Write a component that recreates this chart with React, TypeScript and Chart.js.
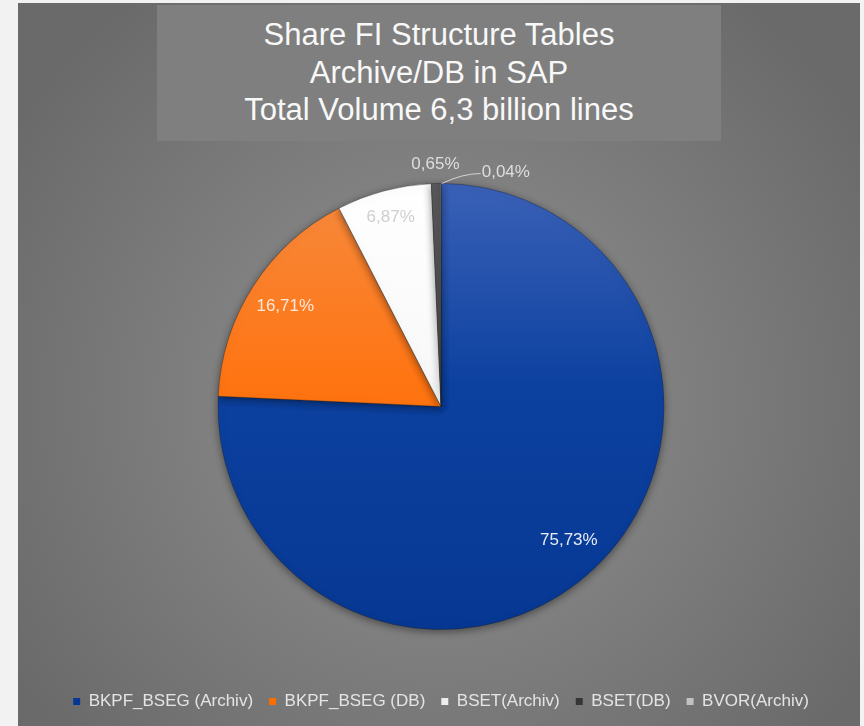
import React, { useEffect, useRef } from 'react';
import { Chart, registerables } from 'chart.js';

Chart.register(...registerables);

const TITLE_LINES = ['Share FI Structure Tables', 'Archive/DB in SAP', 'Total Volume 6,3 billion lines'];
const CATEGORIES = ['BKPF_BSEG (Archiv)', 'BKPF_BSEG (DB)', 'BSET(Archiv)', 'BSET(DB)', 'BVOR(Archiv)'];
const SHARES = [75.73, 16.71, 6.87, 0.65, 0.04];

const FONT = '"Liberation Sans", Arial, Helvetica, sans-serif';

const SLICE_GRADIENTS = [
  ['#3a61b7', '#0d41a0', '#063893'],
  ['#f68a3e', '#ff7412', '#fa6d00'],
  ['#ffffff', '#f8f8f8', '#ececec'],
  ['#5a5a5a', '#464646', '#363636'],
  ['#d6d6d6', '#cccccc', '#c2c2c2'],
];
const LABEL_COLORS = ['#e6ebf5', '#fde9da', '#cfcfcf', '#dedede', '#dedede'];

const fmt = (v: number) => v.toFixed(2).replace('.', ',') + '%';

const labelPlugin = {
  id: 'pieDecor',
  beforeDatasetsDraw(chart: any) {
    const ctx = chart.ctx;
    ctx.save();
    ctx.shadowColor = 'rgba(0,0,0,0.45)';
    ctx.shadowBlur = 9;
    ctx.shadowOffsetY = 2;
  },
  afterDatasetsDraw(chart: any) {
    const ctx = chart.ctx;
    ctx.restore();
    const meta = chart.getDatasetMeta(0);
    ctx.save();
    ctx.font = `17px ${FONT}`;
    ctx.textBaseline = 'middle';
    meta.data.forEach((arc: any, i: number) => {
      const { x, y, startAngle, endAngle, outerRadius } = arc.getProps(
        ['x', 'y', 'startAngle', 'endAngle', 'outerRadius'],
        true
      );
      const mid = (startAngle + endAngle) / 2;
      const v = SHARES[i];
      const text = fmt(v);
      ctx.fillStyle = LABEL_COLORS[i];
      if (v >= 10) {
        const r = outerRadius * 0.83;
        ctx.textAlign = 'center';
        ctx.fillText(text, x + Math.cos(mid) * r, y + Math.sin(mid) * r);
      } else if (v >= 5) {
        const r = outerRadius * 0.88;
        ctx.textAlign = 'center';
        ctx.fillText(text, x + Math.cos(mid) * r, y + Math.sin(mid) * r);
      } else if (v >= 0.5) {
        const r = outerRadius * 1.085;
        ctx.textAlign = 'center';
        ctx.fillText(text, x + Math.cos(mid) * r, y + Math.sin(mid) * r);
      } else {
        const px = x + Math.cos(mid) * outerRadius;
        const py = y + Math.sin(mid) * outerRadius;
        ctx.strokeStyle = '#d4d4d4';
        ctx.lineWidth = 1;
        ctx.beginPath();
        ctx.moveTo(px + 1, py);
        ctx.quadraticCurveTo(px + 22, py - 10, px + 40, py - 10);
        ctx.stroke();
        ctx.textAlign = 'left';
        ctx.fillText(text, px + 41, py - 11);
      }
    });
    ctx.restore();
  },
};

export default function App() {
  const canvasRef = useRef<HTMLCanvasElement | null>(null);

  useEffect(() => {
    const canvas = canvasRef.current;
    if (!canvas) return;
    const RADIUS = 223;
    const chart = new Chart(canvas, {
      type: 'pie',
      data: {
        labels: CATEGORIES,
        datasets: [
          {
            data: SHARES,
            backgroundColor: (c: any) => {
              const i = c.dataIndex ?? 0;
              const stops = SLICE_GRADIENTS[i];
              const area = c.chart.chartArea;
              if (!area) return stops[1];
              const cy = (area.top + area.bottom) / 2;
              const g = c.chart.ctx.createLinearGradient(0, cy - RADIUS, 0, cy + RADIUS);
              g.addColorStop(0, stops[0]);
              g.addColorStop(0.45, stops[1]);
              g.addColorStop(1, stops[2]);
              return g;
            },
            borderColor: 'rgba(30,30,30,0.35)',
            borderWidth: 1,
            hoverOffset: 0,
            radius: RADIUS,
          } as any,
        ],
      },
      options: {
        animation: false,
        responsive: true,
        maintainAspectRatio: false,
        layout: { padding: { top: 133, left: 4, right: 0, bottom: 6 } },
        plugins: {
          title: { display: false },
          tooltip: { enabled: false },
          legend: {
            position: 'bottom',
            labels: {
              color: '#e4e4e4',
              font: { family: FONT, size: 17 },
              boxWidth: 7,
              boxHeight: 7,
              padding: 16,
              generateLabels: (ch: any) => {
                const base = (Chart as any).overrides.pie.plugins.legend.labels.generateLabels(ch);
                return base.map((it: any) => ({ ...it, lineWidth: 0 }));
              },
            },
          },
        },
      },
      plugins: [labelPlugin],
    } as any);
    return () => chart.destroy();
  }, []);

  return (
    <div
      style={{
        position: 'fixed',
        left: 0,
        top: 0,
        width: 864,
        height: 726,
        background: '#f2f2f2',
        overflow: 'hidden',
        fontFamily: FONT,
      }}
    >
      <div
        style={{
          position: 'absolute',
          left: 18,
          top: 3,
          width: 842,
          height: 723,
          background:
            'radial-gradient(ellipse 60% 70% at 50% 55%, #8b8b8b 0%, #828282 40%, #767676 70%, #6a6a6a 100%)',
        }}
      >
        <div style={{ position: 'absolute', left: 0, top: 0, width: 842, height: 723 }}>
          <canvas ref={canvasRef} />
        </div>
      </div>
      <div
        style={{
          position: 'absolute',
          left: 157,
          top: 5,
          width: 564,
          height: 136,
          boxSizing: 'border-box',
          paddingTop: 11,
          background: '#7f7f7f',
          color: '#f8f8f8',
          fontSize: 31,
          lineHeight: '37.5px',
          textAlign: 'center',
        }}
      >
        {TITLE_LINES.map((t) => (
          <div key={t}>{t}</div>
        ))}
      </div>
    </div>
  );
}
